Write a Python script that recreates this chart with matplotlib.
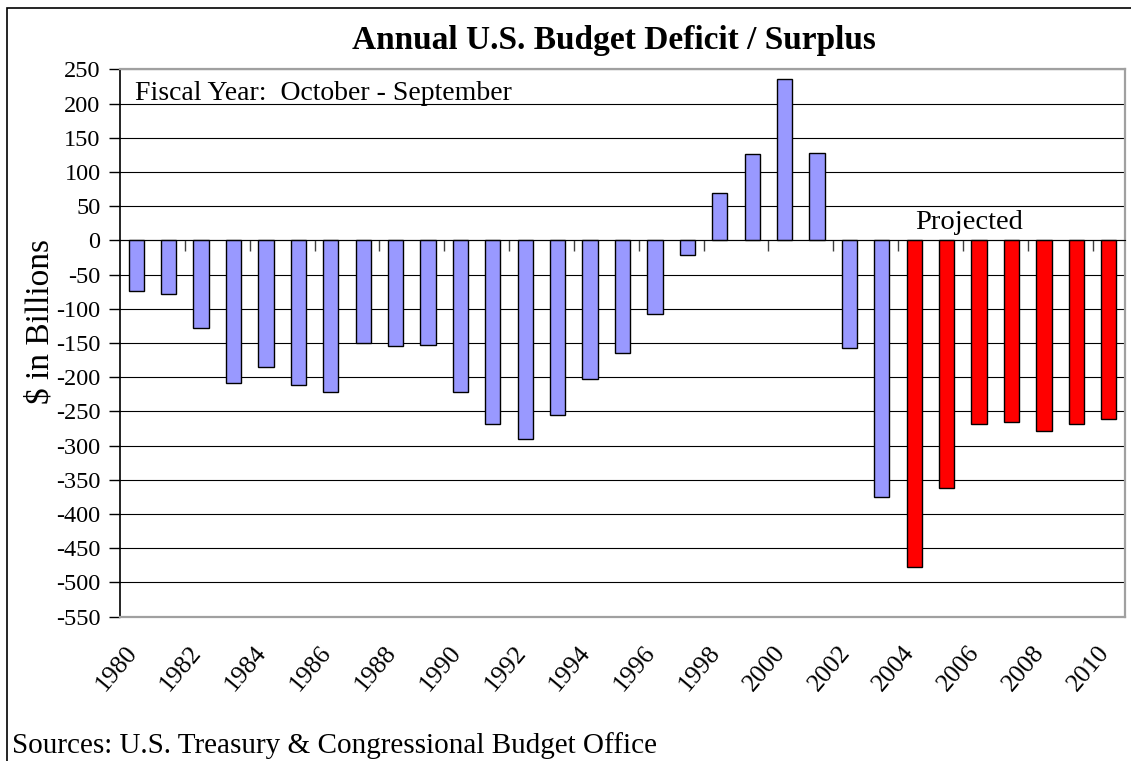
import numpy as np
import matplotlib
matplotlib.use("Agg")
import matplotlib.pyplot as plt
from matplotlib.patches import Rectangle
from matplotlib.transforms import ScaledTranslation

plt.rcParams['font.family'] = ['Liberation Serif', 'DejaVu Serif']
plt.rcParams['axes.unicode_minus'] = False

# ---------------------
# Data ($ billions, fiscal years)
# ---------------------
years = list(range(1980, 2011))
balance = [-74, -79, -128, -208, -185, -212, -221, -150, -155, -153,
           -221, -269, -290, -255, -203, -164, -107, -22, 69, 126,
           236, 128, -158, -375, -477, -362, -268, -265, -278, -268,
           -261]
first_projected = 2004

actual_color = '#9999ff'
projected_color = '#ff0000'

W, H = 1131, 761
fig = plt.figure(figsize=(W / 100, H / 100), dpi=100)

# plot area in pixel terms
left, right, top, bottom = 120, 1125, 69.3, 616.7
ax = fig.add_axes([left / W, 1 - bottom / H, (right - left) / W, (bottom - top) / H])

x = np.arange(len(years))
colors = [projected_color if y >= first_projected else actual_color for y in years]
ax.bar(x, balance, width=0.47, color=colors, edgecolor='black', linewidth=1.0, zorder=3)

ax.set_xlim(-0.5, len(years) - 0.5)
ax.set_ylim(-550, 250)
ax.set_yticks(np.arange(-550, 251, 50))
ax.yaxis.grid(True, color='black', linewidth=0.8)
ax.set_axisbelow(True)
ax.tick_params(axis='y', length=8, width=1, pad=6, labelsize=17.5)

# year labels every other year, at the bottom of the plot
ax.set_xticks(x[::2], [str(y) for y in years[::2]], rotation=50, ha='right', va='top')
ax.tick_params(axis='x', length=0, pad=18, labelsize=18.5)
shift = ScaledTranslation(5 / 100, 0, fig.dpi_scale_trans)
for lbl in ax.get_xticklabels():
    lbl.set_transform(lbl.get_transform() + shift)

for s in ['top', 'right', 'bottom']:
    ax.spines[s].set_color('#a0a0a0')
    ax.spines[s].set_linewidth(1.6)
ax.spines['left'].set_color('black')
ax.spines['left'].set_linewidth(1.2)

# category tick marks hanging below the zero line
ax2 = ax.twiny()
ax2.set_xlim(ax.get_xlim())
ax2.set_xticks(np.arange(1.5, len(years), 2))
ax2.spines['top'].set_position(('data', 0))
ax2.spines['top'].set_color('black')
ax2.spines['top'].set_linewidth(0.8)
for s in ['left', 'right', 'bottom']:
    ax2.spines[s].set_visible(False)
ax2.tick_params(axis='x', direction='in', length=8, width=1, color='#404040', labeltop=False)

# texts
fig.text(614 / W, 1 - 40 / H, 'Annual U.S. Budget Deficit / Surplus',
         ha='center', va='center', fontsize=24, fontweight='bold')
fig.text(135 / W, 1 - 100 / H, 'Fiscal Year:  October - September',
         ha='left', va='baseline', fontsize=20)
fig.text(40 / W, 1 - 321 / H, '$ in Billions', rotation=90,
         ha='center', va='center', fontsize=24)
ax.text(25.7, 16, 'Projected', ha='center', va='baseline', fontsize=20.5)
fig.text(12 / W, 1 - 753 / H, 'Sources: U.S. Treasury & Congressional Budget Office',
         ha='left', va='baseline', fontsize=21)

# outer chart border
fig.add_artist(Rectangle((7 / W, -0.05), 1.1, 1.05 - 8.3 / H, transform=fig.transFigure,
                         fill=False, edgecolor='black', linewidth=1.2))

fig.savefig('out.png', dpi=100)
